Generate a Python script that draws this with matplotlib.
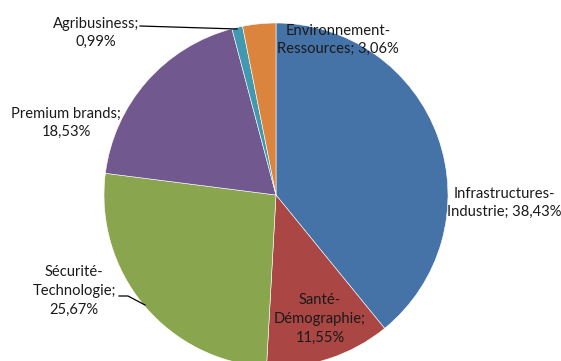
import matplotlib
matplotlib.use("Agg")
import matplotlib.pyplot as plt

categories = ["Infrastructures-\nIndustrie", "Santé-\nDémographie", "Sécurité-\nTechnologie",
              "Premium brands", "Agribusiness", "Environnement-\nRessources"]
values = [38.43, 11.55, 25.67, 18.53, 0.99, 3.06]
value_labels = ["38,43%", "11,55%", "25,67%", "18,53%", "0,99%", "3,06%"]
colors = ["#4572A7", "#AA4643", "#89A54E", "#71588F", "#4198AF", "#DB843D"]

W, H = 561, 361
fig = plt.figure(figsize=(W / 100, H / 100), dpi=100)
ax = fig.add_axes([0, 0, 1, 1])

cx, cy, r = 276, H - 195, 172
ax.pie(values, colors=colors, startangle=90, counterclock=False,
       center=(cx, cy), radius=r, frame=True,
       wedgeprops=dict(edgecolor="white", linewidth=0.4))
ax.set_xlim(0, W)
ax.set_ylim(0, H)
ax.set_aspect("equal")
ax.axis("off")

font = dict(family=["Lato", "DejaVu Sans"], fontsize=10.6, color="#1a1a1a",
            ha="center", va="center", linespacing=1.42)

texts = {
    0: ("Infrastructures-\nIndustrie; 38,43%", 504, 203),
    1: ("Santé-\nDémographie;\n11,55%", 320, 319),
    2: ("Sécurité-\nTechnologie;\n25,67%", 74, 291),
    3: ("Premium brands;\n18,53%", 66, 123),
    4: ("Agribusiness;\n0,99%", 96, 33),
    5: ("Environnement-\nRessources; 3,06%", 338, 40),
}
for i, (t, x, y) in texts.items():
    ax.text(x, H - y, t, **font)

# leader lines
ax.plot([140, 237], [H - 26, H - 29], color="black", lw=0.9)
ax.plot([119, 128, 145], [H - 296, H - 296, H - 305], color="black", lw=0.9)

fig.savefig("out.png", dpi=100)
